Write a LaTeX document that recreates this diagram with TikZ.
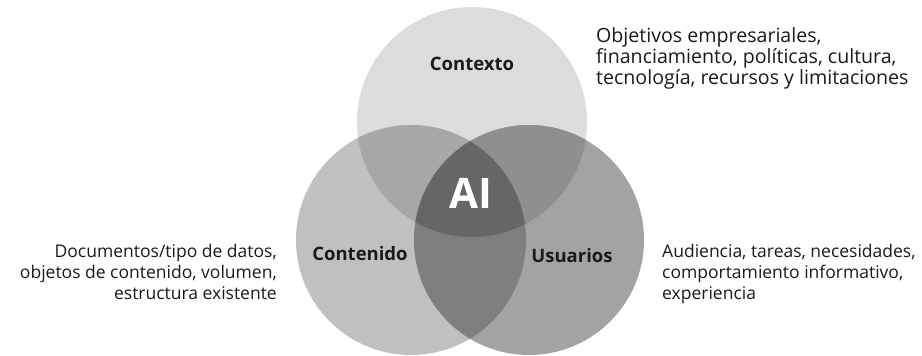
\documentclass[tikz,border=0pt]{standalone}
\usepackage{fontspec}
\setmainfont{Open Sans}
\definecolor{ctop}{HTML}{DCDCDC}
\definecolor{cleft}{HTML}{C0C0C0}
\definecolor{cright}{HTML}{A3A3A3}
\definecolor{ctl}{HTML}{A7A7A7}
\definecolor{ctr}{HTML}{8F8F8F}
\definecolor{clr}{HTML}{7F7F7F}
\definecolor{call}{HTML}{666666}
\definecolor{ctext}{HTML}{1A1A1A}
\tikzset{
  desc/.style={inner sep=0pt, text=ctext, font=\fontsize{17.5}{21}\selectfont},
  desctop/.style={inner sep=0pt, text=ctext, font=\fontsize{19.6}{21}\selectfont},
  setlabel/.style={inner sep=0pt, text=ctext, font=\fontsize{18.5}{22}\selectfont\bfseries},
}
\begin{document}
\begin{tikzpicture}[x=1pt,y=-1pt]
\useasboundingbox[fill=white] (0,0) rectangle (922,356);
\coordinate (T) at (472,122);
\coordinate (L) at (411,240);
\coordinate (R) at (529,240);
\def\rr{115pt}
\fill[ctop] (T) circle (\rr);
\fill[cleft] (L) circle (\rr);
\fill[cright] (R) circle (\rr);
\begin{scope}\clip (T) circle (\rr); \fill[ctl] (L) circle (\rr); \end{scope}
\begin{scope}\clip (T) circle (\rr); \fill[ctr] (R) circle (\rr); \end{scope}
\begin{scope}\clip (L) circle (\rr); \fill[clr] (R) circle (\rr); \end{scope}
\begin{scope}\clip (T) circle (\rr); \clip (L) circle (\rr); \fill[call] (R) circle (\rr); \end{scope}
\node[setlabel, anchor=base] (ctx) at (472,70) {Contexto};
\node[setlabel, anchor=base] (cnt) at (360,260) {Contenido};
\node[setlabel, anchor=base] (usr) at (572,262) {Usuarios};
\node[inner sep=0pt, anchor=base, text=white, font=\fontsize{42}{48}\selectfont\bfseries] (ai) at (471,208) {AI};
\node[desctop, anchor=base west] (t1) at (596,42) {Objetivos empresariales,};
\node[desctop, anchor=base west] (t2) at (596,63) {financiamiento, políticas, cultura,};
\node[desctop, anchor=base west] (t3) at (596,84) {tecnología, recursos y limitaciones};
\node[desc, anchor=base east] (l1) at (277,257) {Documentos/tipo de datos,};
\node[desc, anchor=base east] (l2) at (277,278) {objetos de contenido, volumen,};
\node[desc, anchor=base east] (l3) at (277,299) {estructura existente};
\node[desc, anchor=base west] (r1) at (662,257) {Audiencia, tareas, necesidades,};
\node[desc, anchor=base west] (r2) at (662,278) {comportamiento informativo,};
\node[desc, anchor=base west] (r3) at (662,299) {experiencia};
\end{tikzpicture}
\end{document}
